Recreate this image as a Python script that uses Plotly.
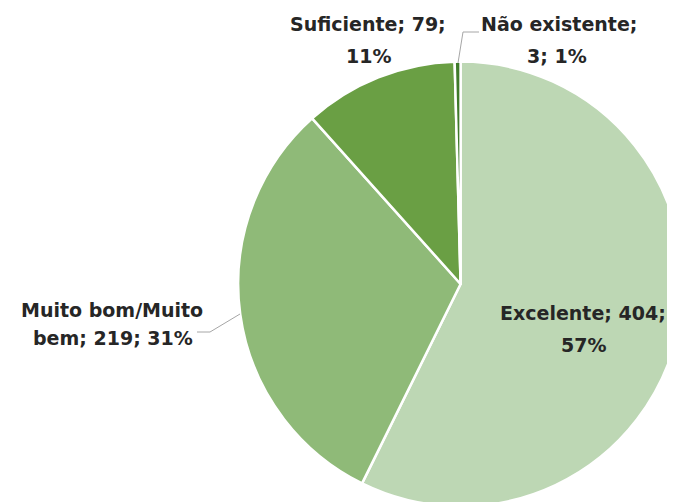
import plotly.graph_objects as go

categories = ["Excelente", "Muito bom/Muito bem", "Suficiente", "Não existente"]
values = [404, 219, 79, 3]
percent_labels = ["57%", "31%", "11%", "1%"]
colors = ["#BDD7B4", "#8FBA78", "#6A9F44", "#3F7A2A"]

W, H = 675, 502
FONT = dict(family="'DejaVu Sans', sans-serif", size=19, color="#262626", weight="bold")

fig = go.Figure(go.Pie(
    labels=categories,
    values=values,
    sort=False,
    direction="clockwise",
    rotation=0,
    marker=dict(colors=colors, line=dict(color="white", width=2.5)),
    textinfo="none",
    domain=dict(x=[0.341, 1.0], y=[0.007, 0.8934]),
    showlegend=False,
    hoverinfo="label+value+percent",
))

def px(x):
    return x / W

def py(y):
    return 1 - y / H

annotations = [
    dict(x=px(360), y=py(16), text=f"{categories[2]}; {values[2]};"),
    dict(x=px(360), y=py(48), text=f"{percent_labels[2]}"),
    dict(x=px(551), y=py(16), text=f"{categories[3]};"),
    dict(x=px(549), y=py(48), text=f"{values[3]}; {percent_labels[3]}"),
    dict(x=px(104), y=py(302), text="Muito bom/Muito"),
    dict(x=px(105), y=py(330), text=f"bem; {values[1]}; {percent_labels[1]}"),
    dict(x=px(575), y=py(305), text=f"{categories[0]}; {values[0]};"),
    dict(x=px(575), y=py(337), text=f"{percent_labels[0]}"),
]
for a in annotations:
    a.update(xref="paper", yref="paper", showarrow=False, font=FONT,
             xanchor="center", yanchor="middle")

line_style = dict(color="#A6A6A6", width=1)
shapes = [
    dict(type="path", xref="paper", yref="paper",
         path=f"M {px(450)},{py(55)} L {px(455)},{py(24)} L {px(471)},{py(24)}",
         line=line_style),
    dict(type="path", xref="paper", yref="paper",
         path=f"M {px(232)},{py(306)} L {px(202)},{py(324)} L {px(189)},{py(324)}",
         line=line_style),
]

fig.update_layout(
    width=W, height=H,
    margin=dict(l=0, r=0, t=0, b=0),
    paper_bgcolor="white",
    plot_bgcolor="white",
    annotations=annotations,
    shapes=shapes,
)

fig.write_html("out.html")
